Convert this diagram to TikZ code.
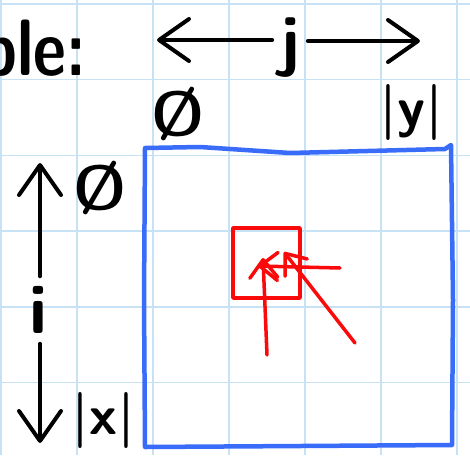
\documentclass[tikz,border=0pt]{standalone}
\usepackage{tikz}
\usetikzlibrary{arrows.meta}
\definecolor{gridblue}{RGB}{200,226,245}
\definecolor{boxblue}{RGB}{58,108,250}
\definecolor{cellred}{RGB}{250,10,10}

\begin{document}
\begin{tikzpicture}[x=1pt,y=-1pt,
    hand/.style={font=\sffamily\bfseries\fontsize{#1}{#1}\selectfont, inner sep=0pt},
    penarrow/.style={line width=4pt, line cap=round, -{Straight Barb[length=30pt,width=42pt,round]}},
    redarrow/.style={draw=cellred, line width=3.5pt, line cap=round, -{Straight Barb[length=18pt,width=28pt,round]}}]
\useasboundingbox (0,0) rectangle (470,455);
\clip (0,0) rectangle (470,455);

% grid paper
\foreach \k in {0,...,6} {
  \draw[gridblue, line width=1.5pt] (1+76*\k,0) -- (1+76*\k,455);
  \draw[gridblue, line width=1.5pt] (0,4+75.7*\k) -- (470,4+75.7*\k);
}

% labels
\node[hand=80, anchor=east, xscale=0.8] (ble) at (86,48) {ble:};
\node[hand=68] (jlbl) at (290,48) {j};
\node[hand=62] (jzero) at (178,114) {Ø};
\node[hand=56] (ylbl) at (411,112) {|y|};
\node[hand=70] (ilbl) at (38,310) {i};
\node[hand=62] (izero) at (100,188) {Ø};
\node[hand=56] (xlbl) at (103,420) {|x|};

\coordinate (jleft) at (157,40);
\coordinate (jright) at (420,41);
\coordinate (itop) at (40,163);
\coordinate (ibot) at (40,443);

\draw[penarrow] ([xshift=-8pt]jlbl.west |- jleft) -- (jleft);
\draw[penarrow] ([xshift=8pt]jlbl.east |- jright) -- (jright);
\draw[penarrow] ([yshift=10pt]ilbl.north -| itop) -- (itop);
\draw[penarrow] ([yshift=-10pt]ilbl.south -| ibot) -- (ibot);

% table
\draw[boxblue, line width=4.5pt, line join=round]
  (145,148) -- (200,147) -- (290,153) -- (445,149) -- (451,145)
  -- (453,300) -- (452,445) -- (300,446) -- (145,447) -- (144,300) -- cycle;

% cell and its neighbours
\draw[cellred, line width=3.5pt, line join=round] (233,228) rectangle (300,298);
\coordinate (cell) at (258,266);
\coordinate (left) at (340,268);
\coordinate (below) at (267,355);
\coordinate (diag) at (355,343);
\draw[redarrow] (left) -- (cell);
\draw[redarrow] (below) -- ([shift={(5pt,8pt)}]cell);
\draw[redarrow] (diag) -- ([shift={(26pt,14pt)}]cell);
\end{tikzpicture}
\end{document}
